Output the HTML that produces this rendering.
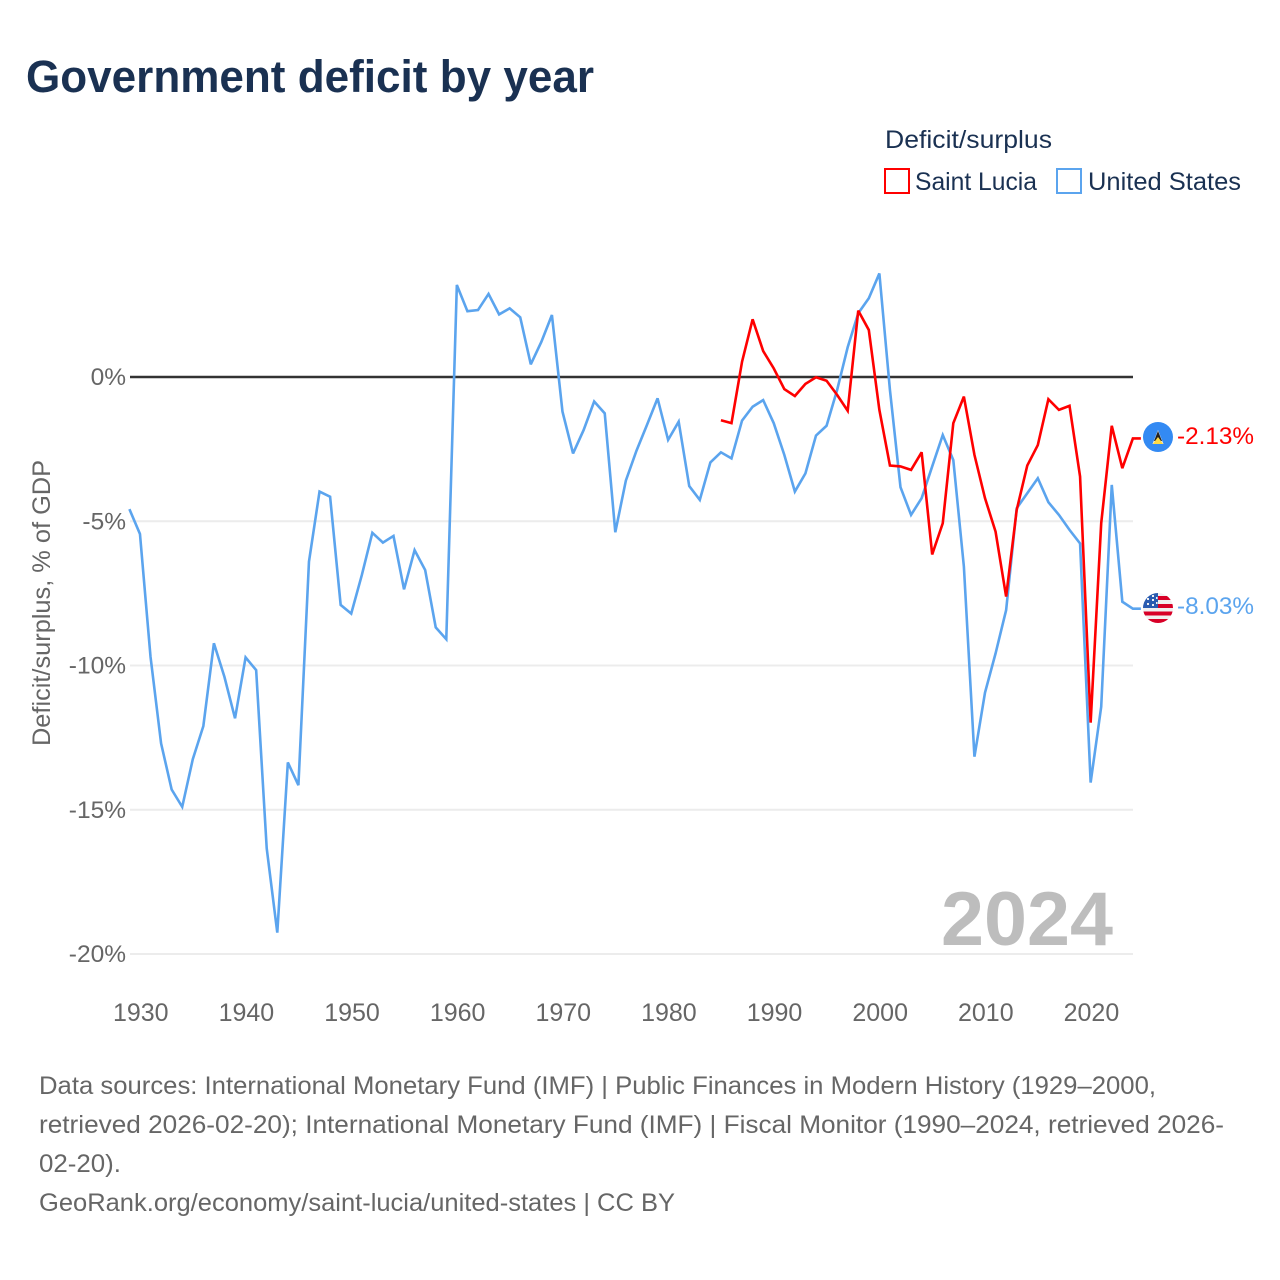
<!DOCTYPE html>
<html lang="en">
<head>
<meta charset="utf-8">
<title>Government deficit by year</title>
<style>
html,body{margin:0;padding:0;background:#fff;width:1280px;height:1280px;overflow:hidden}
svg{display:block;font-family:"Liberation Sans",sans-serif}
</style>
</head>
<body>
<svg id="chart" width="1280" height="1280" viewBox="0 0 1280 1280" xmlns="http://www.w3.org/2000/svg">
  <defs>
    <clipPath id="flag-clip-us"><circle cx="1158" cy="608" r="15"/></clipPath>
  </defs>
  <rect x="0" y="0" width="1280" height="1280" fill="#fff"/>
  <text x="26" y="92" font-size="45" font-weight="700" fill="#1a3152" textLength="568" lengthAdjust="spacingAndGlyphs">Government deficit by year</text>

  <g>
    <text x="885" y="148" font-size="25" fill="#1a3152" textLength="167" lengthAdjust="spacingAndGlyphs">Deficit/surplus</text>
    <g>
      <rect x="885" y="169" width="24" height="24" fill="none" stroke="#ff0000" stroke-width="2"/>
      <text x="915" y="190" font-size="25" fill="#1a3152" textLength="122" lengthAdjust="spacingAndGlyphs">Saint Lucia</text>
    </g>
    <g>
      <rect x="1057" y="169" width="24" height="24" fill="none" stroke="#5ba4ee" stroke-width="2"/>
      <text x="1088" y="190" font-size="25" fill="#1a3152" textLength="153" lengthAdjust="spacingAndGlyphs">United States</text>
    </g>
  </g>

  <g id="grid"></g>
  <g id="y-axis"></g>
  <g id="x-axis"></g>
  <text transform="translate(50,603) rotate(-90)" text-anchor="middle" font-size="25" fill="#666" textLength="286" lengthAdjust="spacingAndGlyphs">Deficit/surplus, % of GDP</text>
  <text x="941" y="945" font-size="76" font-weight="700" fill="#bdbdbd" textLength="172" lengthAdjust="spacingAndGlyphs">2024</text>
  <g id="series"></g>

  <g>
    <circle cx="1158" cy="437" r="15" fill="#338af3"/>
    <polygon points="1158,430 1152.5,444 1163.5,444" fill="#f0f0f0"/>
    <polygon points="1158,431 1154,441 1162,441" fill="#222"/>
    <polygon points="1158,437 1152.8,444 1163.2,444" fill="#ffda44"/>
    <text id="label-lc" x="1177" y="444" font-size="24" fill="#ff0000" textLength="77" lengthAdjust="spacingAndGlyphs"></text>
  </g>
  <g>
    <g clip-path="url(#flag-clip-us)">
      <rect x="1143" y="593" width="30" height="30" fill="#f0f0f0"/>
      <rect x="1158" y="596" width="15" height="4" fill="#d80027"/>
      <rect x="1158" y="604" width="15" height="4" fill="#d80027"/>
      <rect x="1143" y="611.5" width="30" height="4" fill="#d80027"/>
      <rect x="1143" y="619" width="30" height="4" fill="#d80027"/>
      <rect x="1143" y="593" width="15" height="15" fill="#2a5cb0"/>
      <path d="M1147 598h2v2h-2zM1152 595h2v2h-2zM1152 599h2v2h-2zM1147 603h2v2h-2zM1152 604h2v2h-2zM1156 597h1.6v2h-1.6zM1156 602h1.6v2h-1.6z" fill="#f0f0f0"/>
    </g>
    <text id="label-us" x="1177" y="614" font-size="24" fill="#5ba4ee" textLength="77" lengthAdjust="spacingAndGlyphs"></text>
  </g>

  <g font-size="25" fill="#666">
    <text x="39" y="1094" textLength="1117" lengthAdjust="spacingAndGlyphs">Data sources: International Monetary Fund (IMF) | Public Finances in Modern History (1929–2000,</text>
    <text x="39" y="1133" textLength="1185" lengthAdjust="spacingAndGlyphs">retrieved 2026-02-20); International Monetary Fund (IMF) | Fiscal Monitor (1990–2024, retrieved 2026-</text>
    <text x="39" y="1172" textLength="82" lengthAdjust="spacingAndGlyphs">02-20).</text>
    <text x="39" y="1211" textLength="636" lengthAdjust="spacingAndGlyphs">GeoRank.org/economy/saint-lucia/united-states | CC BY</text>
  </g>
</svg>

<script>
const usStartYear = 1929;
const usValues = [
  -4.58,-5.44,-9.7,-12.7,-14.3,-14.9,-13.25,-12.1,-9.23,-10.4,-11.83,
  -9.72,-10.16,-16.34,-19.26,-13.36,-14.15,-6.4,-3.97,-4.15,-7.9,
  -8.2,-6.87,-5.4,-5.74,-5.51,-7.36,-6.0,-6.69,-8.68,-9.09,
  3.19,2.28,2.32,2.88,2.17,2.38,2.07,0.44,1.22,2.15,
  -1.2,-2.65,-1.84,-0.85,-1.26,-5.38,-3.59,-2.56,-1.66,-0.74,
  -2.18,-1.55,-3.78,-4.26,-2.96,-2.61,-2.82,-1.51,-1.03,-0.8,
  -1.6,-2.7,-3.97,-3.34,-2.03,-1.69,-0.45,1.03,2.21,2.73,
  3.59,-0.45,-3.82,-4.78,-4.2,-3.1,-2.01,-2.88,-6.57,-13.16,
  -10.94,-9.58,-8.08,-4.55,-4.03,-3.51,-4.34,-4.78,-5.3,-5.77,
  -14.06,-11.43,-3.74,-7.79,-8.03
];
const lcStartYear = 1985;
const lcValues = [
  -1.5,-1.6,0.53,2.0,0.9,0.3,-0.42,-0.66,-0.24,-0.01,-0.13,-0.62,-1.17,2.3,1.63,
  -1.14,-3.07,-3.1,-3.22,-2.61,-6.15,-5.07,-1.6,-0.68,-2.7,-4.2,-5.36,-7.61,-4.61,
  -3.07,-2.36,-0.77,-1.14,-1.0,-3.45,-11.98,-5.07,-1.69,-3.16,-2.13
];
const yTicks = [0,-5,-10,-15,-20];
const xTicks = [1930,1940,1950,1960,1970,1980,1990,2000,2010,2020];

const NS = 'http://www.w3.org/2000/svg';
const xScale = year => 129.4 + (year - 1929) * 10.563;
const yScale = value => 377 - value * 28.85;
const formatPct = value => value.toFixed(2) + '%';

function make(tag, attrs, parent) {
  const el = document.createElementNS(NS, tag);
  for (const k in attrs) el.setAttribute(k, attrs[k]);
  parent.appendChild(el);
  return el;
}

const grid = document.getElementById('grid');
const yAxis = document.getElementById('y-axis');
const xAxis = document.getElementById('x-axis');
const seriesGroup = document.getElementById('series');

yTicks.filter(t => t !== 0).forEach(t => {
  const line = make('line', {x1:130,x2:1133,y1:yScale(t),y2:yScale(t),stroke:'#ececec','stroke-width':2}, grid);
  
  
});

yTicks.forEach(t => {
  const label = make('text', {x:126,y:yScale(t)+8,'text-anchor':'end','font-size':24.5,fill:'#666'}, yAxis);
  
  
  label.textContent = t + '%';
});

xTicks.forEach(t => {
  const label = make('text', {x:xScale(t)+0.8,y:1021,'text-anchor':'middle','font-size':25,fill:'#666'}, xAxis);
  
  
  label.textContent = t;
});

function drawSeries(values, startYear, color) {
  const pts = values.map((v,i) => xScale(startYear + i).toFixed(2) + ',' + yScale(v).toFixed(2));
  const last = values[values.length - 1];
  pts.push((xScale(2024) + 8).toFixed(2) + ',' + yScale(last).toFixed(2));
  return make('polyline', {points:pts.join(' '),fill:'none',stroke:color,'stroke-width':2.6,'stroke-linejoin':'miter','stroke-miterlimit':3}, seriesGroup);
}

const usLine = drawSeries(usValues, usStartYear, '#5ba4ee');



const lcLine = drawSeries(lcValues, lcStartYear, '#ff0000');



const zero = make('line', {x1:130,x2:1133,y1:yScale(0),y2:yScale(0),stroke:'#333','stroke-width':2.5}, grid);



document.getElementById('label-lc').textContent = formatPct(lcValues[lcValues.length - 1]);
document.getElementById('label-us').textContent = formatPct(usValues[usValues.length - 1]);
</script>
</body>
</html>
